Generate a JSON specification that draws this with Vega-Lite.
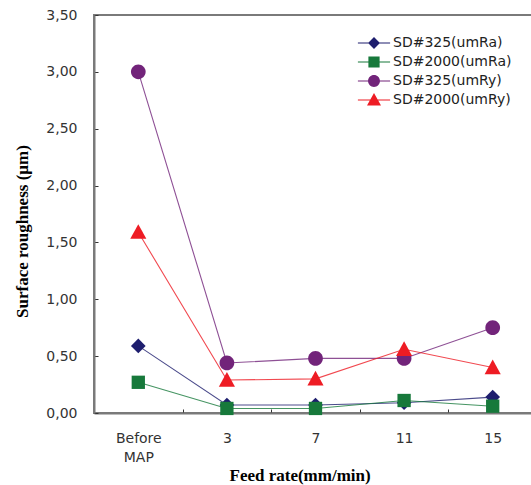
{
  "$schema": "https://vega.github.io/schema/vega-lite/v6.json",
  "width": 443,
  "height": 398,
  "autosize": {"type": "none"},
  "padding": {"left": 94, "top": 15, "right": 0, "bottom": 72},
  "background": "white",
  "config": {"view": {"stroke": "#7a7a7a", "strokeWidth": 2}, "axis": {"grid": false}},
  "data": {"values": [
    {"series": "SD#325(umRa)", "feed": "Before MAP", "k": 0, "value": 0.59},
    {"series": "SD#325(umRa)", "feed": "3", "k": 1, "value": 0.07},
    {"series": "SD#325(umRa)", "feed": "7", "k": 2, "value": 0.07},
    {"series": "SD#325(umRa)", "feed": "11", "k": 3, "value": 0.09},
    {"series": "SD#325(umRa)", "feed": "15", "k": 4, "value": 0.14},
    {"series": "SD#2000(umRa)", "feed": "Before MAP", "k": 0, "value": 0.27},
    {"series": "SD#2000(umRa)", "feed": "3", "k": 1, "value": 0.04},
    {"series": "SD#2000(umRa)", "feed": "7", "k": 2, "value": 0.04},
    {"series": "SD#2000(umRa)", "feed": "11", "k": 3, "value": 0.11},
    {"series": "SD#2000(umRa)", "feed": "15", "k": 4, "value": 0.06},
    {"series": "SD#325(umRy)", "feed": "Before MAP", "k": 0, "value": 3.0},
    {"series": "SD#325(umRy)", "feed": "3", "k": 1, "value": 0.44},
    {"series": "SD#325(umRy)", "feed": "7", "k": 2, "value": 0.48},
    {"series": "SD#325(umRy)", "feed": "11", "k": 3, "value": 0.48},
    {"series": "SD#325(umRy)", "feed": "15", "k": 4, "value": 0.75},
    {"series": "SD#2000(umRy)", "feed": "Before MAP", "k": 0, "value": 1.59},
    {"series": "SD#2000(umRy)", "feed": "3", "k": 1, "value": 0.29},
    {"series": "SD#2000(umRy)", "feed": "7", "k": 2, "value": 0.30},
    {"series": "SD#2000(umRy)", "feed": "11", "k": 3, "value": 0.56},
    {"series": "SD#2000(umRy)", "feed": "15", "k": 4, "value": 0.40}
  ]},
  "encoding": {
    "x": {
      "field": "feed", "type": "nominal",
      "sort": ["Before MAP", "3", "7", "11", "15"],
      "bandPosition": 0.5,
      "scale": {"type": "band", "paddingInner": 0, "paddingOuter": 0},
      "axis": {
        "title": "Feed rate(mm/min)",
        "titleFont": "Liberation Serif", "titleFontSize": 17, "titleFontWeight": "bold", "titleColor": "#000",
        "titleAnchor": "start", "titleX": 135, "titlePadding": 3,
        "labelFont": "DejaVu Sans", "labelFontSize": 14, "labelColor": "#333", "labelAngle": 0,
        "labelExpr": "datum.value == 'Before MAP' ? ['Before', 'MAP'] : datum.value",
        "labelLineHeight": 19,
        "tickBand": "extent", "tickSize": -4, "tickColor": "#333", "tickWidth": 1,
        "domainColor": "#7a7a7a", "domainWidth": 2,
        "labelPadding": 22
      }
    },
    "y": {
      "field": "value", "type": "quantitative",
      "scale": {"domain": [0, 3.5], "nice": false},
      "axis": {
        "title": "Surface roughness (µm)",
        "titleFont": "Liberation Serif", "titleFontSize": 17, "titleFontWeight": "bold", "titleColor": "#000",
        "titleX": -72, "titleY": 216, "titleAngle": 270, "titleAlign": "center", "titleBaseline": "middle",
        "values": [0, 0.5, 1, 1.5, 2, 2.5, 3, 3.5],
        "labelExpr": "replace(format(datum.value, '.2f'), '.', ',')",
        "labelFont": "DejaVu Sans", "labelFontSize": 14, "labelColor": "#333",
        "tickSize": -4, "tickColor": "#333", "tickWidth": 1,
        "domainColor": "#7a7a7a", "domainWidth": 2,
        "labelPadding": 21
      }
    }
  },
  "layer": [
    {
      "mark": {"type": "line", "strokeWidth": 1.1, "opacity": 0.8},
      "encoding": {
        "order": {"field": "k", "type": "quantitative"},
        "color": {
          "field": "series", "type": "nominal",
          "scale": {"domain": ["SD#325(umRa)", "SD#2000(umRa)", "SD#325(umRy)", "SD#2000(umRy)"], "range": ["#1e1e6e", "#17793b", "#72247a", "#ee1c24"]},
          "legend": null
        }
      }
    },
    {
      "mark": {"type": "point", "filled": true, "size": 196, "opacity": 1, "strokeWidth": 0},
      "encoding": {
        "color": {
          "field": "series", "type": "nominal",
          "scale": {"domain": ["SD#325(umRa)", "SD#2000(umRa)", "SD#325(umRy)", "SD#2000(umRy)"], "range": ["#1e1e6e", "#17793b", "#72247a", "#ee1c24"]},
          "legend": null
        },
        "shape": {
          "field": "series", "type": "nominal",
          "scale": {"domain": ["SD#325(umRa)", "SD#2000(umRa)", "SD#325(umRy)", "SD#2000(umRy)"], "range": [
            "M0,-1.05L1.05,0L0,1.05L-1.05,0Z",
            "M-0.95,-0.95H0.95V0.95H-0.95Z",
            "M1.05,0A1.05,1.05 0 1,1 -1.05,0A1.05,1.05 0 1,1 1.05,0Z",
            "M0,-1.15L1.15,0.95H-1.15Z"
          ]},
          "legend": null
        }
      }
    },
    {
      "transform": [{"filter": "false"}],
      "mark": {"type": "point", "filled": true, "size": 196, "opacity": 1, "strokeWidth": 0},
      "encoding": {
        "color": {
          "field": "series", "type": "nominal",
          "scale": {"domain": ["SD#325(umRa)", "SD#2000(umRa)", "SD#325(umRy)", "SD#2000(umRy)"], "range": ["#1e1e6e", "#17793b", "#72247a", "#ee1c24"]},
          "legend": {"orient": "none", "legendX": 273, "legendY": 21, "title": null, "labelFont": "DejaVu Sans", "labelFontSize": 14, "labelColor": "#222", "symbolSize": 196, "labelOffset": 12, "rowPadding": 5, "padding": 0, "symbolStrokeWidth": 0, "symbolOpacity": 1}
        },
        "shape": {
          "field": "series", "type": "nominal",
          "scale": {"domain": ["SD#325(umRa)", "SD#2000(umRa)", "SD#325(umRy)", "SD#2000(umRy)"], "range": [
            "M0,-0.85L0.85,0L0,0.85L-0.85,0ZM-2.3,-0.07H2.3V0.07H-2.3Z",
            "M-0.8,-0.8H0.8V0.8H-0.8ZM-2.3,-0.07H2.3V0.07H-2.3Z",
            "M0.85,0A0.85,0.85 0 1,1 -0.85,0A0.85,0.85 0 1,1 0.85,0ZM-2.3,-0.07H2.3V0.07H-2.3Z",
            "M0,-1L1,0.8H-1ZM-2.3,-0.07H2.3V0.07H-2.3Z"
          ]},
          "legend": {"orient": "none", "legendX": 273, "legendY": 21, "title": null, "labelFont": "DejaVu Sans", "labelFontSize": 14, "labelColor": "#222", "symbolSize": 196, "labelOffset": 12, "rowPadding": 5, "padding": 0, "symbolStrokeWidth": 0, "symbolOpacity": 1}
        }
      }
    }
  ],
  "resolve": {"scale": {"color": "independent", "shape": "independent"}}
}
